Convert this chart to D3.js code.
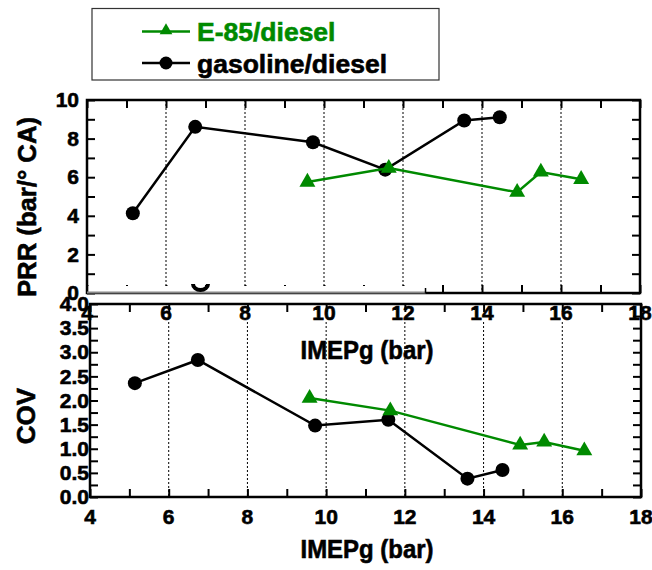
<!DOCTYPE html>
<html><head><meta charset="utf-8">
<script src="https://cdn.jsdelivr.net/npm/d3@7"></script>
<style>body{margin:0;background:#fff}svg{display:block}text{font-family:"Liberation Sans",Arial,sans-serif;font-weight:bold}</style>
</head><body>
<svg id="c" width="652" height="570"></svg>
<script>
// ---- data ----
const xTickVals = [4, 6, 8, 10, 12, 14, 16, 18];
const prrTickVals = [0, 2, 4, 6, 8, 10];
const covTickVals = [0.0, 0.5, 1.0, 1.5, 2.0, 2.5, 3.0, 3.5, 4.0];
const gridVals = [6, 8, 10, 12, 14, 16];

const gasImepPRR = [5.16, 6.74, 9.72, 11.55, 13.55, 14.45];
const gasPRR     = [4.13, 8.61, 7.81, 6.39, 8.94, 9.11];
const e85ImepPRR = [9.58, 11.64, 14.89, 15.49, 16.51];
const e85PRR     = [5.75, 6.47, 5.22, 6.27, 5.89];

const gasImepCOV = [5.14, 6.74, 9.72, 11.58, 13.59, 14.48];
const gasCOV     = [2.36, 2.84, 1.48, 1.60, 0.38, 0.56];
const e85ImepCOV = [9.58, 11.63, 14.93, 15.54, 16.56];
const e85COV     = [2.05, 1.79, 1.08, 1.14, 0.96];

const seriesNames = ["E-85/diesel", "gasoline/diesel"];
const GREEN = "#008a00";

const svg = d3.select("#c");

// ---- scales ----
const xTop = d3.scaleLinear().domain([4, 18]).range([87, 640]);
const yTop = d3.scaleLinear().domain([0, 10]).range([293, 100]);
const xBot = d3.scaleLinear().domain([4, 18]).range([90, 641]);
const yBot = d3.scaleLinear().domain([0, 4]).range([497, 304]);

function heavy(sel, color) {
  sel.attr("stroke", color || "#000").attr("stroke-width", 0.6).attr("paint-order", "stroke");
}

function styleAxis(g, fs) {
  g.select(".domain").remove();
  g.selectAll(".tick line").attr("stroke", "#000").attr("stroke-width", 2);
  const t = g.selectAll(".tick text").attr("fill", "#000").style("font-size", fs + "px")
    .style("font-family", '"Liberation Sans",Arial,sans-serif').style("font-weight", "bold");
  heavy(t);
}

function panel(x, y, yTicksAll, yLabelFmt, yPad, fsY, gridTop) {
  const [x0, x1] = x.range();
  const [y0, y1] = y.range(); // y0 bottom, y1 top
  svg.append("g").selectAll("line").data(gridVals).join("line")
    .attr("x1", d => x(d)).attr("x2", d => x(d))
    .attr("y1", gridTop).attr("y2", y0)
    .attr("stroke", "#000").attr("stroke-width", 1).attr("stroke-dasharray", "2,2");
  const allX = d3.range(4, 19, 1);
  const gt = svg.append("g").attr("transform", `translate(0,${y1})`)
    .call(d3.axisTop(x).tickValues(allX).tickSize(-8).tickFormat(""));
  styleAxis(gt, 20);
  const gb = svg.append("g").attr("transform", `translate(0,${y0})`)
    .call(d3.axisBottom(x).tickValues(allX).tickSize(-8).tickFormat(""));
  styleAxis(gb, 20);
  const gl = svg.append("g").attr("transform", `translate(${x0},0)`)
    .call(d3.axisLeft(y).tickValues(yTicksAll).tickSize(-8).tickPadding(yPad).tickFormat(yLabelFmt));
  styleAxis(gl, fsY);
  const gr = svg.append("g").attr("transform", `translate(${x1},0)`)
    .call(d3.axisRight(y).tickValues(yTicksAll).tickSize(-8).tickFormat(""));
  styleAxis(gr, 20);
  svg.append("rect").attr("x", x0).attr("y", y1).attr("width", x1 - x0).attr("height", y0 - y1)
    .attr("fill", "none").attr("stroke", "#000").attr("stroke-width", 2.5);
}

function series(x, y, xs, ys, color, kind) {
  const pts = xs.map((d, i) => [x(d), y(ys[i])]);
  svg.append("path").attr("d", d3.line()(pts)).attr("fill", "none")
    .attr("stroke", color).attr("stroke-width", 2.5);
  if (kind === "circle") {
    svg.append("g").selectAll("circle").data(pts).join("circle")
      .attr("cx", d => d[0]).attr("cy", d => d[1]).attr("r", 7).attr("fill", color);
  } else {
    svg.append("g").selectAll("path").data(pts).join("path")
      .attr("d", d3.symbol(d3.symbolTriangle, 110))
      .attr("transform", d => `translate(${d[0]},${d[1]})`).attr("fill", color);
  }
}

// ---- top panel (PRR) ----
panel(xTop, yTop, d3.range(0, 11, 1), d => (d % 2 ? "" : d), 8, 21, 100);
series(xTop, yTop, gasImepPRR, gasPRR, "#000", "circle");
series(xTop, yTop, e85ImepPRR, e85PRR, GREEN, "tri");

// cover strip at the bottom of the top panel
svg.append("rect").attr("x", xTop(4) + 1.5).attr("y", 286).attr("width", xTop(12.57) - xTop(4) - 1.5).attr("height", 7)
  .attr("fill", "#fff");
svg.append("line").attr("x1", xTop(4)).attr("x2", xTop(12.57)).attr("y1", 292.5).attr("y2", 292.5)
  .attr("stroke", "#888").attr("stroke-width", 2);
svg.append("line").attr("x1", xTop(12.57)).attr("x2", xTop(12.57)).attr("y1", 288).attr("y2", 293)
  .attr("stroke", "#000").attr("stroke-width", 1.5);
svg.append("path").attr("d", "M193,284 A7.5,6 0 0 0 208,284").attr("fill", "none")
  .attr("stroke", "#000").attr("stroke-width", 4);

// ---- bottom panel (COV) ----
panel(xBot, yBot, d3.range(0, 4.01, 0.25), d => (Math.round(d * 4) % 2 ? "" : d3.format(".1f")(d)), 1, 21, 322);
series(xBot, yBot, gasImepCOV, gasCOV, "#000", "circle");
series(xBot, yBot, e85ImepCOV, e85COV, GREEN, "tri");

// bottom x tick labels
heavy(svg.append("g").selectAll("text").data(xTickVals).join("text")
  .attr("x", d => xBot(d)).attr("y", 524).attr("text-anchor", "middle")
  .style("font-size", "21px").text(d => d));

// top panel x tick labels (overlapping the lower panel)
heavy(svg.append("g").selectAll("text").data(xTickVals).join("text")
  .attr("x", d => xTop(d)).attr("y", 320).attr("text-anchor", "middle")
  .style("font-size", "21px").text(d => d));

// axis titles
heavy(svg.append("text").attr("x", 367).attr("y", 359).attr("text-anchor", "middle")
  .style("font-size", "26px").attr("textLength", 133).attr("lengthAdjust", "spacingAndGlyphs").text("IMEPg (bar)"));
heavy(svg.append("text").attr("x", 367).attr("y", 558).attr("text-anchor", "middle")
  .style("font-size", "26px").attr("textLength", 133).attr("lengthAdjust", "spacingAndGlyphs").text("IMEPg (bar)"));
heavy(svg.append("text").attr("transform", "translate(36,207) rotate(-90)").attr("text-anchor", "middle")
  .style("font-size", "26px").attr("textLength", 180).attr("lengthAdjust", "spacingAndGlyphs").text("PRR (bar/° CA)"));
heavy(svg.append("text").attr("transform", "translate(35,416) rotate(-90)").attr("text-anchor", "middle")
  .style("font-size", "26px").text("COV"));

// ---- legend ----
const lg = svg.append("g");
lg.append("rect").attr("x", 92).attr("y", 8.5).attr("width", 347).attr("height", 71.5)
  .attr("fill", "#fff").attr("stroke", "#333").attr("stroke-width", 1.2);
const legendRows = [
  { name: seriesNames[0], color: GREEN, kind: "tri", y: 31.5 },
  { name: seriesNames[1], color: "#000", kind: "circle", y: 63 }
];
legendRows.forEach(r => {
  lg.append("line").attr("x1", 142).attr("x2", 190).attr("y1", r.y).attr("y2", r.y)
    .attr("stroke", r.color).attr("stroke-width", 2.5);
  if (r.kind === "tri") {
    lg.append("path").attr("d", d3.symbol(d3.symbolTriangle, 70)).attr("transform", `translate(166,${r.y - 1})`).attr("fill", r.color);
  } else {
    lg.append("circle").attr("cx", 166).attr("cy", r.y).attr("r", 6.5).attr("fill", r.color);
  }
  heavy(lg.append("text").attr("x", 197).attr("y", r.y + 9.5).attr("fill", r.color)
    .style("font-size", "26.5px").text(r.name), r.color);
});
</script>
</body></html>
